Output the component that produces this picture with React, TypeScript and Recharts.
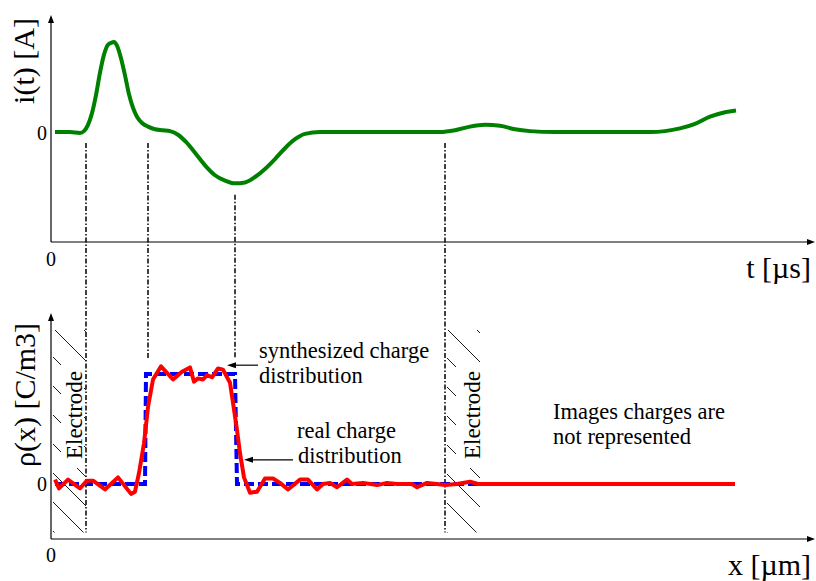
import {
  ComposedChart,
  Line,
  XAxis,
  YAxis,
  ReferenceLine,
  ReferenceArea,
} from 'recharts';

const W = 816;
const H = 581;

// i(t), top panel (arbitrary units, peak = 1)
const tValues = [
  4, 19, 29, 33, 37, 41, 45, 49, 53, 57, 60, 63, 66, 70, 74, 78, 82, 86, 91, 97,
  104, 112, 119, 127, 135, 144, 154, 164, 174, 184, 194, 204, 214, 224, 234, 244,
  254, 269, 389, 404, 419, 434, 449, 464, 479, 504, 599, 614, 629, 644, 659, 674, 685,
];
const iValues = [
  0, 0, -0.01, 0.01, 0.08, 0.21, 0.41, 0.66, 0.86, 0.97, 0.99, 1.0, 0.96, 0.82, 0.63, 0.42,
  0.27, 0.17, 0.1, 0.06, 0.03, 0.02, 0.01, -0.03, -0.11, -0.23, -0.37, -0.48, -0.54, -0.57,
  -0.56, -0.5, -0.41, -0.3, -0.18, -0.08, -0.02, 0, 0, 0.02, 0.06, 0.08, 0.07, 0.03, 0.01,
  0, 0, 0.01, 0.04, 0.09, 0.17, 0.22, 0.24,
];

// rho(x), real charge distribution (red)
const xReal = [
  4, 8, 17, 29, 36, 42, 54, 67, 80, 84, 88, 93, 97, 102, 110, 116, 122, 131, 139, 143,
  147, 152, 156, 161, 167, 172, 179, 182, 186, 189, 193, 199, 206, 214, 222, 229, 237,
  249, 257, 266, 272, 279, 286, 296, 301, 312, 326, 336, 346, 361, 366, 376, 386, 394,
  406, 419, 427, 684,
];
const rhoReal = [
  0.04, -0.04, 0.04, -0.04, 0.03, 0.03, -0.05, 0.06, -0.09, -0.07, 0.1, 0.37, 0.7, 0.95,
  1.07, 1.01, 0.95, 1.02, 1.06, 0.93, 0.96, 0.95, 0.99, 0.97, 1.05, 1.04, 0.92, 0.74, 0.49,
  0.28, 0.06, -0.08, -0.07, 0.05, 0.05, 0.01, -0.05, 0.04, 0.04, -0.05, 0, 0.01, -0.03,
  0.04, 0, 0.01, -0.01, 0.01, 0, 0, -0.03, 0.01, 0, -0.01, 0, 0.02, 0, 0,
];

// synthesized charge distribution (blue dashed)
const xSynth = [4, 94, 95, 184, 186, 684];
const rhoSynth = [0, 0, 1, 1, 0, 0];

// dash-dot guides linking both panels (rho units)
const guideX = [35, 97, 184, 394];
const guideTop = [3.1, 3.1, 2.63, 3.1];
const guideBottom = [-0.44, 1.13, 1.15, -0.44];

// electrode extents along x
const electrodes = [
  { id: 'hatchL', from: 2, to: 35 },
  { id: 'hatchR', from: 396, to: 429 },
];

const X_MAX = 764;
const I_AXIS = [-1.222, 1.3];
const RHO_AXIS = [-0.5, 1.555];

const currentData = tValues.map((t, k) => ({ x: t, i: iValues[k] }));
const realData = xReal.map((x, k) => ({ x, rho: rhoReal[k] }));
const synthData = xSynth.map((x, k) => ({ x, rho: rhoSynth[k] }));

function arrowShape(p: any, head = 9, half = 3) {
  const { x1, y1, x2, y2 } = p;
  const dx = x2 - x1;
  const dy = y2 - y1;
  const len = Math.hypot(dx, dy) || 1;
  const ux = dx / len;
  const uy = dy / len;
  const bx = x2 - ux * head;
  const by = y2 - uy * head;
  return (
    <g>
      <line x1={x1} y1={y1} x2={bx} y2={by} stroke="#000" strokeWidth={1.2} />
      <polygon
        points={`${x2},${y2} ${bx - uy * half},${by + ux * half} ${bx + uy * half},${by - ux * half}`}
        fill="#000"
      />
    </g>
  );
}

const serif = '"Liberation Serif", "DejaVu Serif", serif';

export default function App() {
  return (
    <div style={{ position: 'absolute', left: 0, top: 0, width: W, height: H, background: '#fff' }}>
      <ComposedChart width={W} height={H} margin={{ top: 0, right: 1, bottom: 0, left: 51 }}>
        <XAxis dataKey="x" type="number" domain={[0, X_MAX]} allowDataOverflow hide />
        <YAxis yAxisId="i" type="number" domain={[-4.989, 1.467]} allowDataOverflow hide />
        <YAxis yAxisId="rho" type="number" domain={[-0.882, 4.4]} allowDataOverflow hide />

        {electrodes.map((e) => (
          <ReferenceArea
            key={e.id}
            yAxisId="rho"
            x1={e.from}
            x2={e.to}
            y1={-0.44}
            y2={1.4}
            fill={`url(#${e.id})`}
            fillOpacity={1}
            stroke="none"
          />
        ))}

        {/* axes with arrows */}
        <ReferenceLine yAxisId="i" segment={[{ x: 0, y: I_AXIS[0] }, { x: 0, y: I_AXIS[1] }]} shape={(p: any) => arrowShape(p, 8, 3)} />
        <ReferenceLine yAxisId="i" segment={[{ x: 0, y: I_AXIS[0] }, { x: X_MAX, y: I_AXIS[0] }]} shape={(p: any) => arrowShape(p, 8, 3)} />
        <ReferenceLine yAxisId="rho" segment={[{ x: 0, y: RHO_AXIS[0] }, { x: 0, y: RHO_AXIS[1] }]} shape={(p: any) => arrowShape(p, 8, 3)} />
        <ReferenceLine yAxisId="rho" segment={[{ x: 0, y: RHO_AXIS[0] }, { x: X_MAX, y: RHO_AXIS[0] }]} shape={(p: any) => arrowShape(p, 8, 3)} />

        {guideX.map((gx, k) => (
          <ReferenceLine
            key={'g' + k}
            yAxisId="rho"
            segment={[{ x: gx, y: guideTop[k] }, { x: gx, y: guideBottom[k] }]}
            stroke="#000"
            strokeWidth={1.5}
            strokeDasharray="5 2 1.5 2"
          />
        ))}

        {/* annotation arrows */}
        <ReferenceLine yAxisId="rho" segment={[{ x: 207, y: 1.08 }, { x: 176, y: 1.08 }]} shape={(p: any) => arrowShape(p)} />
        <ReferenceLine yAxisId="rho" segment={[{ x: 242, y: 0.22 }, { x: 193, y: 0.22 }]} shape={(p: any) => arrowShape(p)} />

        <Line
          yAxisId="i"
          data={currentData}
          dataKey="i"
          type="monotone"
          stroke="#008000"
          strokeWidth={4}
          dot={false}
          activeDot={false}
          isAnimationActive={false}
        />
        <Line
          yAxisId="rho"
          data={synthData}
          dataKey="rho"
          type="linear"
          stroke="#0000ff"
          strokeWidth={4}
          strokeDasharray="10 4"
          dot={false}
          activeDot={false}
          isAnimationActive={false}
        />
        <Line
          yAxisId="rho"
          data={realData}
          dataKey="rho"
          type="linear"
          stroke="#ff0000"
          strokeWidth={4}
          strokeLinejoin="round"
          dot={false}
          activeDot={false}
          isAnimationActive={false}
        />
      </ComposedChart>

      <svg
        width={W}
        height={H}
        style={{ position: 'absolute', left: 0, top: 0, pointerEvents: 'none', fontFamily: serif }}
        fill="#000"
      >
        <defs>
          <pattern id="hatchL" patternUnits="userSpaceOnUse" x={15} y={0} width={29} height={29}>
            <path d="M0,0 L29,29 M-2,27 L2,31 M27,-2 L31,2" stroke="#000" strokeWidth={0.9} />
          </pattern>
          <pattern id="hatchR" patternUnits="userSpaceOnUse" x={2} y={0} width={29} height={29}>
            <path d="M0,0 L29,29 M-2,27 L2,31 M27,-2 L31,2" stroke="#000" strokeWidth={0.9} />
          </pattern>
        </defs>

        <text x={34} y={61} fontSize={30} textAnchor="middle" transform="rotate(-90 34 61)">i(t) [A]</text>
        <text x={35} y={395} fontSize={30} textAnchor="middle" transform="rotate(-90 35 395)">ρ(x) [C/m3]</text>

        <text x={47} y={140} fontSize={20} textAnchor="end">0</text>
        <text x={51} y={266} fontSize={20} textAnchor="middle">0</text>
        <text x={47} y={491} fontSize={20} textAnchor="end">0</text>
        <text x={51} y={562} fontSize={20} textAnchor="middle">0</text>

        <text x={811} y={278} fontSize={30} textAnchor="end">t [µs]</text>
        <text x={811} y={575} fontSize={30} textAnchor="end">x [µm]</text>

        <rect x={61} y={362} width={23} height={106} fill="#fff" />
        <text x={82} y={415} fontSize={23} textAnchor="middle" transform="rotate(-90 82 415)">Electrode</text>
        <rect x={456} y={362} width={27} height={106} fill="#fff" />
        <text x={480} y={415} fontSize={23} textAnchor="middle" transform="rotate(-90 480 415)">Electrode</text>

        <text x={259} y={358} fontSize={22.5}>synthesized charge</text>
        <text x={259} y={383} fontSize={22.5}>distribution</text>
        <text x={297} y={438} fontSize={22.5}>real charge</text>
        <text x={298} y={463} fontSize={22.5}>distribution</text>
        <text x={553} y={419} fontSize={22.5}>Images charges are</text>
        <text x={553} y={444} fontSize={22.5}>not represented</text>
      </svg>
    </div>
  );
}
